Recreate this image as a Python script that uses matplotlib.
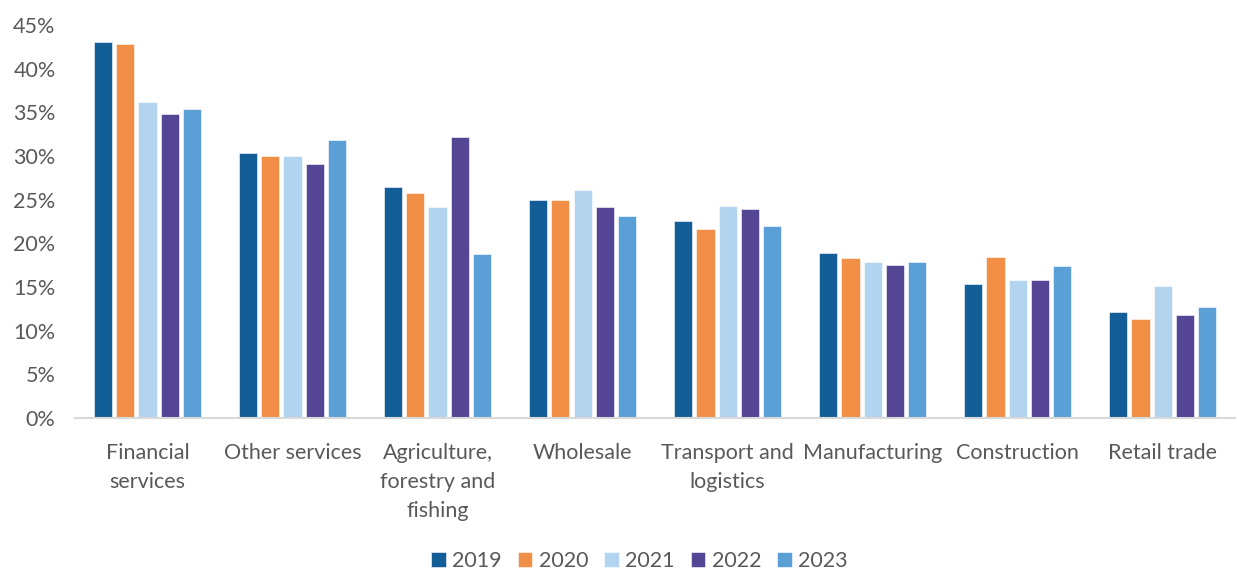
import matplotlib.pyplot as plt
import numpy as np
from matplotlib.ticker import PercentFormatter

plt.rcParams['font.family'] = ['Lato', 'DejaVu Sans']

categories = ["Financial\nservices", "Other services", "Agriculture,\nforestry and\nfishing",
              "Wholesale", "Transport and\nlogistics", "Manufacturing", "Construction", "Retail trade"]
years = ["2019", "2020", "2021", "2022", "2023"]
v2019 = [43.1, 30.3, 26.5, 25.0, 22.6, 18.9, 15.3, 12.1]
v2020 = [42.8, 30.0, 25.8, 25.0, 21.6, 18.3, 18.4, 11.3]
v2021 = [36.2, 30.0, 24.1, 26.1, 24.3, 17.9, 15.8, 15.1]
v2022 = [34.8, 29.1, 32.2, 24.2, 23.9, 17.5, 15.8, 11.8]
v2023 = [35.4, 31.8, 18.8, 23.1, 22.0, 17.9, 17.4, 12.7]
series = [v2019, v2020, v2021, v2022, v2023]
colors = ["#135E96", "#F08F45", "#B3D4EE", "#544595", "#5A9FD6"]

fig = plt.figure(figsize=(12.37, 5.70), dpi=100)
ax = fig.add_axes([0.0606, 0.2667, 0.938, 0.6895])

x = np.arange(len(categories))
slot = 0.153
for i, (vals, c, yr) in enumerate(zip(series, colors, years)):
    ax.bar(x + (i - 2) * slot, vals, width=0.125, color=c, label=yr,
           edgecolor='white', linewidth=0.4)

ax.set_xlim(-0.5, len(categories) - 0.5)
ax.set_ylim(0, 45)
ax.set_yticks(np.arange(0, 46, 5))
ax.yaxis.set_major_formatter(PercentFormatter(decimals=0))
ax.set_xticks(x)
ax.set_xticklabels(categories, linespacing=1.55)
ax.tick_params(axis='both', length=0, labelsize=15.5, labelcolor='#595959')
ax.tick_params(axis='x', pad=18)
ax.tick_params(axis='y', pad=14)
for s in ['top', 'right', 'left']:
    ax.spines[s].set_visible(False)
ax.spines['bottom'].set_color('#D9D9D9')
ax.spines['bottom'].set_linewidth(1.5)

leg = fig.legend(loc='center', bbox_to_anchor=(0.517, 0.016), ncol=5, frameon=False,
                 fontsize=15.5, handlelength=0.67, handleheight=0.67, handletextpad=0.3,
                 columnspacing=0.75)
for t in leg.get_texts():
    t.set_color('#595959')

fig.savefig("out.png", dpi=100)
